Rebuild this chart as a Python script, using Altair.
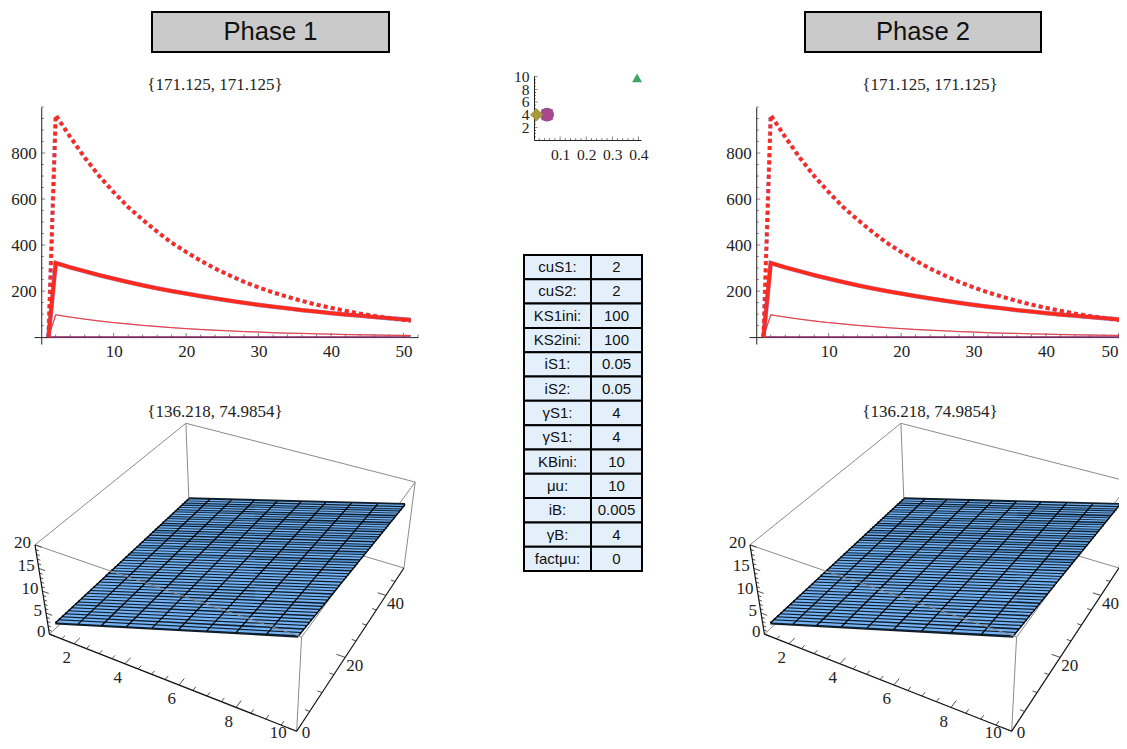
import altair as alt
import numpy as np
import pandas as pd

SERIF = "Liberation Serif"
SANS = "Liberation Sans"
W, H = 1111, 733  # drawing surface; the page keeps an 8px margin all round
PAGE = 8

# ---------- line charts ----------
steps = [1, 2, 4, 6, 8, 10, 12, 14, 16, 18, 20, 22, 24, 26, 28, 30, 32, 34, 36, 38, 40, 42, 44, 46, 48, 50, 51]
dashed = [0, 965, 870, 780, 700, 630, 565, 510, 458, 410, 370, 332, 298, 268, 240, 216, 194, 175, 157, 141, 127, 114, 102, 92, 83, 75, 71]
thick = [0, 322, 303, 286, 269, 254, 239, 225, 212, 200, 189, 178, 168, 158, 149, 140, 132, 125, 117, 111, 104, 98, 93, 87, 82, 77, 75]
thin = [0, 97, 87, 78, 70, 63, 57, 51, 46, 41, 37, 33, 30, 27, 24, 22, 19, 17, 16, 14, 13, 11, 10, 9, 8, 7.5, 7]
floor_line = [0] * len(steps)
x_major = [10, 20, 30, 40, 50]
x_minor = [2, 4, 6, 8, 12, 14, 16, 18, 22, 24, 26, 28, 32, 34, 36, 38, 42, 44, 46, 48, 52]
y_major = [200, 400, 600, 800]
y_minor = [50, 100, 150, 250, 300, 350, 450, 500, 550, 650, 700, 750, 850, 900, 950, 1000]
line_title = "{171.125, 171.125}"

# ---------- scatter ----------
pt_x = [0.05, 0.05, 0.05, 0.01, 0.395]
pt_y = [4, 4, 4, 4, 9.8]
sc_x_major = [0.1, 0.2, 0.3, 0.4]
sc_x_minor = [0.02, 0.04, 0.06, 0.08, 0.12, 0.14, 0.16, 0.18, 0.22, 0.24, 0.26, 0.28, 0.32, 0.34, 0.36, 0.38]
sc_y_major = [2, 4, 6, 8, 10]
sc_y_minor = [0.5, 1, 1.5, 2.5, 3, 3.5, 4.5, 5, 5.5, 6.5, 7, 7.5, 8.5, 9, 9.5]

# ---------- table ----------
t_names = ["cuS1:", "cuS2:", "KS1ini:", "KS2ini:", "iS1:", "iS2:", "γS1:", "γS1:", "KBini:", "μu:", "iB:", "γB:", "factμu:"]
t_vals = ["2", "2", "100", "100", "0.05", "0.05", "4", "4", "10", "10", "0.005", "4", "0"]

# ---------- 3D plot ----------
CAMERA = np.array([
    [23.187261027854717, 3.5423433646871048, -0.833225936112452, 25.581144838179725],
    [0.9760946068085673, -0.46893448168036445, -6.296419654994374, 624.7916720469764],
    [-0.013218825262823298, 0.0041618342964941804, -0.0034702919898047377, 1.0],
])
surface_x = [1, 1.97, 2.94, 3.92, 4.89, 5.86, 6.83, 7.81, 8.78, 9.75]
surface_y = list(range(2, 51))
z_left = [1.2] * 16 + [1.3] * 16 + [1.4] * 17
z_right = [18.1, 18.0, 18.0, 17.9, 17.8, 17.7, 17.7, 17.6, 17.5, 17.4, 17.4, 17.3, 17.2, 17.2, 17.1, 17.0, 16.9,
           16.9, 16.8, 16.7, 16.6, 16.6, 16.5, 16.4, 16.3, 16.3, 16.2, 16.1, 16.1, 16.0, 15.9, 15.8, 15.8, 15.7,
           15.6, 15.5, 15.5, 15.4, 15.3, 15.2, 15.2, 15.1, 15.0, 15.0, 14.9, 14.8, 14.7, 14.7, 14.6]
cube_back = [((1, 0, 20), (1, 50, 20)), ((1, 50, 20), (10, 50, 20)), ((10, 50, 20), (10, 0, 20)),
             ((1, 50, 20), (1, 50, 0)), ((10, 50, 20), (10, 50, 0)), ((10, 50, 0), (1, 50, 0)),
             ((1, 0, 0), (1, 50, 0))]
cube_front = [((1, 0, 20), (10, 0, 20)), ((10, 0, 20), (10, 0, 0))]
axes_3d = [((1, 0, 0), (10, 0, 0)), ((10, 0, 0), (10, 50, 0)), ((1, 0, 0), (1, 0, 20))]
x3_major = [2, 4, 6, 8, 10]
x3_minor = [1.5, 2.5, 3, 3.5, 4.5, 5, 5.5, 6.5, 7, 7.5, 8.5, 9, 9.5]
y3_major = [0, 20, 40]
y3_minor = [5, 10, 15, 25, 30, 35, 45]
z3_major = [0, 5, 10, 15, 20]
z3_minor = [1, 2, 3, 4, 6, 7, 8, 9, 11, 12, 13, 14, 16, 17, 18, 19]
surface_title = "{136.218, 74.9854}"


def proj(x, y, z):
    u, v, w = CAMERA @ np.array([x, y, z, 1.0])
    return u / w, v / w


def scale(domain, a, b):
    """Continuous scale whose range sits at page pixels a..b."""
    return alt.Scale(domain=domain, range=[a - PAGE, b - PAGE], nice=False, zero=False)


def caption(label, x, y, font=SERIF, size=17, color="#222222", align="center"):
    return alt.Chart(pd.DataFrame({"t": [label]})).mark_text(
        font=font, fontSize=size, color=color, align=align).encode(
        text="t:N", x=alt.value(x - PAGE), y=alt.value(y - PAGE))


def header(label, x0, x1):
    xs = scale([0, 1], x0, x1)
    ys = scale([0, 1], 52, 12)
    box = alt.Chart(pd.DataFrame({"a": [0], "b": [1], "c": [0], "d": [1]})).mark_rect(
        fill="#cacaca", stroke="black", strokeWidth=2).encode(
        x=alt.X("a:Q", scale=xs, axis=None), x2="b:Q",
        y=alt.Y("c:Q", scale=ys, axis=None), y2="d:Q")
    return [box, caption(label, (x0 + x1) / 2, 32, SANS, 25.6, "#111111")]


def axis_style(size=17, **kw):
    return alt.Axis(grid=False, ticks=False, labelFont=SERIF, labelFontSize=size, labelColor="#222222",
                    domainColor="#222222", domainWidth=1, labelFlush=False, labelOverlap=False,
                    title=None, **kw)


def tick_layers(xs, ys, xvals, yvals, major, minor):
    out = []
    for vals, size in ((xvals[0], major), (xvals[1], minor)):
        out.append(alt.Chart(pd.DataFrame({"v": vals})).mark_tick(
            orient="vertical", size=size, thickness=0.8, color="#222222", yOffset=-size / 2).encode(
            x=alt.X("v:Q", scale=xs, axis=None), y=alt.datum(0, scale=ys, axis=None)))
    for vals, size in ((yvals[0], major), (yvals[1], minor)):
        out.append(alt.Chart(pd.DataFrame({"v": vals})).mark_tick(
            orient="horizontal", size=size, thickness=0.8, color="#222222", xOffset=size / 2).encode(
            y=alt.Y("v:Q", scale=ys, axis=None), x=alt.datum(0, scale=xs, axis=None)))
    return out


def line_panel(dx, axis_labels=x_major):
    x0 = 34 + dx
    xs = scale([-1, 52], x0, x0 + 384)
    ys = scale([-30, 1000], 344, 107)
    x_zero_px = x0 + 384 / 53
    df = pd.DataFrame({"x": steps, "dashed": dashed, "thick": thick, "thin": thin, "floor": floor_line})
    base = alt.Chart(df)

    def ln(field, color, w, dash=None, op=1.0):
        kw = {"strokeDash": dash} if dash else {}
        return base.mark_line(color=color, strokeWidth=w, opacity=op, **kw).encode(
            x=alt.X("x:Q", scale=xs, axis=None), y=alt.Y(field + ":Q", scale=ys, axis=None))

    axes = base.mark_line(opacity=0).encode(
        x=alt.X("x:Q", scale=xs, axis=axis_style(
            values=axis_labels, orient="bottom", offset=(337.1 - PAGE) - H, labelPadding=6, format="d")),
        y=alt.Y("thin:Q", scale=ys, axis=axis_style(
            values=y_major, orient="left", offset=-(x_zero_px - PAGE), labelPadding=5, format="d")))
    return [axes] + tick_layers(xs, ys, (x_major, x_minor), (y_major, y_minor), 4, 2.5) + [
        ln("floor", "#7d2a5c", 1.6),
        ln("thin", "#6a5acd", 1.4, op=0.5), ln("thin", "#ff2a1a", 0.9),
        ln("thick", "#6a5acd", 4.6, op=0.6), ln("thick", "#ff2a1a", 3.8),
        ln("dashed", "#6a5acd", 4.4, dash=[4, 3.2], op=0.6), ln("dashed", "#ff2a1a", 3.6, dash=[4, 3.2]),
        caption(line_title, 215 + dx, 85),
    ]


def scatter_panel():
    xs = scale([0, 0.41], 534, 641)
    ys = scale([0, 10.1], 140, 76)
    axes = alt.Chart(pd.DataFrame({"x": pt_x, "y": pt_y})).mark_point(opacity=0).encode(
        x=alt.X("x:Q", scale=xs, axis=axis_style(
            size=15.5, values=sc_x_major, orient="bottom", offset=(140 - PAGE) - H, labelPadding=7, format=".1f")),
        y=alt.Y("y:Q", scale=ys, axis=axis_style(
            size=15.5, values=sc_y_major, orient="left", offset=-(534 - PAGE), labelPadding=5, format="d")))

    def pt(i, shape, size, color):
        df = pd.DataFrame({"x": [pt_x[i]], "y": [pt_y[i]]})
        return alt.Chart(df).mark_point(shape=shape, size=size, filled=True, color=color, opacity=1).encode(
            x=alt.X("x:Q", scale=xs, axis=None), y=alt.Y("y:Q", scale=ys, axis=None))

    return [axes] + tick_layers(xs, ys, (sc_x_major, sc_x_minor), (sc_y_major, sc_y_minor), 3.5, 2) + [
        pt(0, "circle", 190, "#5a5fb5"),
        pt(1, "circle", 165, "#a8478c"),
        pt(2, "square", 125, "#a8478c"),
        pt(3, "diamond", 170, "#a89a3c"),
        pt(4, "triangle-up", 100, "#3fa860"),
    ]


def table_panel():
    col_edges = [0, 67, 118]
    rows = []
    for i, (n, v) in enumerate(zip(t_names, t_vals)):
        rows.append({"r": i, "r2": i + 1, "c": col_edges[0], "c2": col_edges[1], "t": n})
        rows.append({"r": i, "r2": i + 1, "c": col_edges[1], "c2": col_edges[2], "t": v})
    df = pd.DataFrame(rows)
    df["cm"] = (df.c + df.c2) / 2
    df["rm"] = (df.r + df.r2) / 2
    xs = scale([0, 118], 524, 642)
    ys = scale([0, 13], 255, 571)
    rect = alt.Chart(df).mark_rect(fill="#e3f0fb", stroke="black", strokeWidth=2).encode(
        x=alt.X("c:Q", scale=xs, axis=None), x2="c2:Q",
        y=alt.Y("r:Q", scale=ys, axis=None), y2="r2:Q")
    txt = alt.Chart(df).mark_text(font=SANS, fontSize=15, color="#111111").encode(
        x=alt.X("cm:Q", scale=xs, axis=None), y=alt.Y("rm:Q", scale=ys, axis=None), text="t:N")
    return [rect, txt]


def segments(pairs):
    rows = []
    for k, (a, b) in enumerate(pairs):
        for i, p in enumerate((a, b)):
            u, v = proj(*p)
            rows.append({"k": k, "i": i, "u": u, "v": v})
    return pd.DataFrame(rows)


def surface_panel(dx):
    xs = scale([34, 418], 34 + dx, 418 + dx)
    ys = scale([749, 423], 749, 423)
    X = alt.X("u:Q", scale=xs, axis=None)
    Y = alt.Y("v:Q", scale=ys, axis=None)

    def draw(df, color, w, op=1.0):
        return alt.Chart(df).mark_line(color=color, strokeWidth=w, opacity=op).encode(
            x=X, y=Y, detail="k:N", order="i:Q")

    dark_rows, light_rows = [], []
    for k, (yv, zl, zr) in enumerate(zip(surface_y, z_left, z_right)):
        frac = k / (len(surface_y) - 1)
        for i, (xv, zv) in enumerate(((surface_x[0], zl), (surface_x[-1], zr))):
            u, v = proj(xv, yv, zv)
            dark_rows.append({"k": k, "i": i, "u": u, "v": v})
            u2, v2 = proj(xv, yv + 0.5, zv)
            light_rows.append({"k": k, "i": i, "u": u2, "v": v2,
                               "c": "#74b4f6" if frac < 0.5 or k % 3 else "#4f8cc8",
                               "w": 2.1 - 0.9 * frac})
    dark = pd.DataFrame(dark_rows)
    light = pd.DataFrame(light_rows[:-2])
    strips = alt.Chart(light).mark_line().encode(
        x=X, y=Y, color=alt.Color("c:N", scale=None), strokeWidth=alt.StrokeWidth("w:Q", scale=None),
        detail="k:N", order="i:Q")

    mesh_rows = []
    n = len(surface_y) - 1
    for k, xv in enumerate(surface_x):
        f = (xv - surface_x[0]) / (surface_x[-1] - surface_x[0])
        for i, j in enumerate((0, n)):
            zv = z_left[j] + f * (z_right[j] - z_left[j])
            u, v = proj(xv, surface_y[j], zv)
            mesh_rows.append({"k": k, "i": i, "u": u, "v": v})
    mesh = pd.DataFrame(mesh_rows)

    ticks = []
    for v in x3_minor:
        ticks.append(((v, 0, 0), (v, 1.0, 0)))
    for v in x3_major:
        ticks.append(((v, 0, 0), (v, 1.8, 0)))
    for v in y3_minor:
        ticks.append(((10, v, 0), (9.85, v, 0)))
    for v in y3_major:
        ticks.append(((10, v, 0), (9.7, v, 0)))
    for v in z3_minor:
        ticks.append(((1, 0, v), (1.12, 0, v)))
    for v in z3_major:
        ticks.append(((1, 0, v), (1.25, 0, v)))

    def labels(vals, point, align, ldx, ldy):
        rows = []
        for v in vals:
            u, w = proj(*point(v))
            rows.append({"u": u, "v": w, "t": str(v)})
        return alt.Chart(pd.DataFrame(rows)).mark_text(
            font=SERIF, fontSize=17, color="#222222", align=align, baseline="middle", dx=ldx, dy=ldy).encode(
            x=X, y=Y, text="t:N")

    return [
        draw(segments(cube_back), "#8a8a8a", 1),
        draw(dark, "#101e2c", 3.2),
        strips,
        draw(mesh, "#000000", 1.3),
        draw(segments(cube_front), "#8a8a8a", 1),
        draw(segments(axes_3d), "#111111", 1.2),
        draw(segments(ticks), "#222222", 0.8),
        labels(x3_major[:-1], lambda v: (v, 0, 0), "right", -3, 14.5),
        labels(x3_major[-1:], lambda v: (v, 0, 0), "right", -10, 2),
        labels(y3_major[:1], lambda v: (10, v, 0), "left", 5, 1.5),
        labels(y3_major[1:], lambda v: (10, v, 0), "left", 1, 9),
        labels(z3_major, lambda v: (1, 0, v), "right", -4, -2),
        caption(surface_title, 215 + dx, 412),
    ]


SHIFT = 715
layers = (
    header("Phase 1", 152, 389) + header("Phase 2", 805, 1041)
    + line_panel(0) + line_panel(SHIFT, x_major[:-1])
    + [caption("50", PAGE + W - 0.5, 352, align="right")]
    + scatter_panel() + table_panel()
    + surface_panel(0) + surface_panel(SHIFT)
)

chart = alt.layer(*layers).resolve_scale(x="independent", y="independent").resolve_axis(
    x="independent", y="independent"
).properties(
    width=W, height=H, padding=0, autosize=alt.AutoSizeParams(type="none"), background="white",
).configure_view(stroke=None)

chart.save("out.html", embed_options={"renderer": "svg", "actions": False})
